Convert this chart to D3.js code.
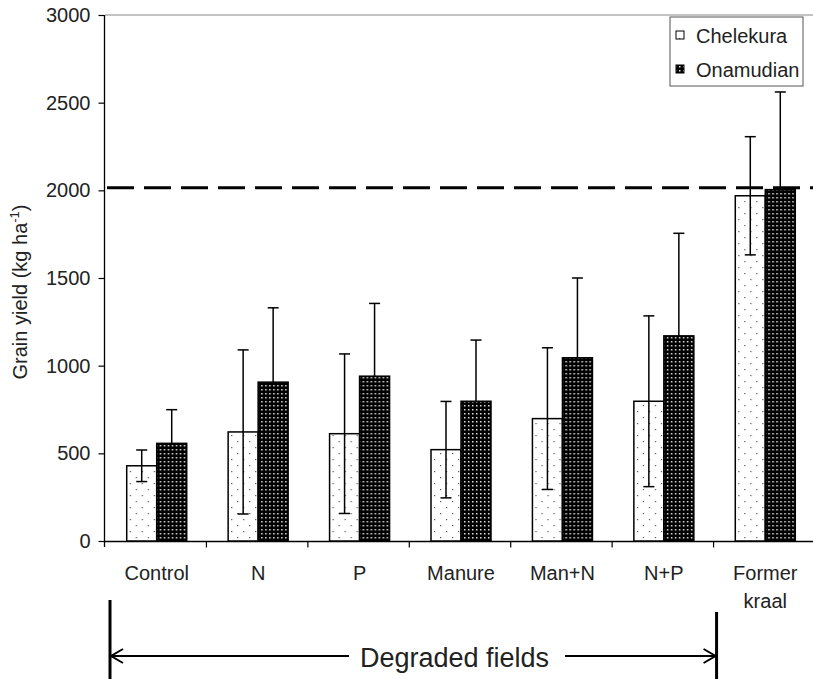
<!DOCTYPE html>
<html>
<head>
<meta charset="utf-8">
<script src="https://cdn.jsdelivr.net/npm/d3@7"></script>
<style>
  html, body { margin: 0; padding: 0; background: #fff; }
  svg { display: block; font-family: "Liberation Sans", Arial, sans-serif; }
</style>
</head>
<body>
<svg id="chart" width="813" height="679"></svg>
<script>
// Grain yield by treatment at two sites (mean ± error)
const categories = ["Control", "N", "P", "Manure", "Man+N", "N+P", "Former kraal"];
const seriesNames = ["Chelekura", "Onamudian"];
const chelekura = [429, 622, 612, 521, 698, 797, 1969];
const chelekuraErr = [90, 468, 455, 275, 404, 487, 337];
const onamudian = [557, 906, 940, 797, 1045, 1170, 2004];
const onamudianErr = [192, 424, 415, 349, 455, 585, 557];
const yTicks = [0, 500, 1000, 1500, 2000, 2500, 3000];
const referenceYield = 2015;

const svg = d3.select("#chart");
const plotLeft = 105, plotRight = 815, plotTop = 15, plotBottom = 541;

const x = d3.scaleBand().domain(categories).range([plotLeft, plotRight]).paddingInner(0).paddingOuter(0);
const x1 = d3.scaleBand().domain(seriesNames).range([0, 60]);
const y = d3.scaleLinear().domain([0, 3000]).range([plotBottom, plotTop]);

// fill patterns
const defs = svg.append("defs");
const pLight = defs.append("pattern").attr("id", "dotsLight")
  .attr("patternUnits", "userSpaceOnUse").attr("width", 12).attr("height", 12);
pLight.append("rect").attr("width", 12).attr("height", 12).attr("fill", "#fff");
pLight.append("rect").attr("x", 3).attr("y", 3).attr("width", 1.2).attr("height", 1.2).attr("fill", "#555");
pLight.append("rect").attr("x", 9).attr("y", 9).attr("width", 1.2).attr("height", 1.2).attr("fill", "#555");

const pDark = defs.append("pattern").attr("id", "dotsDark")
  .attr("patternUnits", "userSpaceOnUse").attr("width", 4).attr("height", 4);
pDark.append("rect").attr("width", 4).attr("height", 4).attr("fill", "#000");
pDark.append("rect").attr("x", 1).attr("y", 1).attr("width", 1.5).attr("height", 1.5).attr("fill", "#e0e0e0");

const fills = { Chelekura: "url(#dotsLight)", Onamudian: "url(#dotsDark)" };

// top frame line
svg.append("line").attr("x1", plotLeft).attr("x2", 813).attr("y1", plotTop).attr("y2", plotTop)
  .attr("stroke", "#888").attr("stroke-width", 1);

// y axis
const yAxis = d3.axisLeft(y).tickValues(yTicks).tickFormat(d3.format("d")).tickSize(6).tickPadding(8);
const gy = svg.append("g").attr("transform", `translate(${plotLeft - 0.5},0)`).call(yAxis);
gy.select(".domain").attr("stroke", "#000").attr("stroke-width", 1.3).attr("d", `M0,${plotTop}V${plotBottom + 6}`);
gy.selectAll(".tick line").attr("stroke", "#000").attr("stroke-width", 1.2);
gy.selectAll(".tick text").attr("font-size", 20).attr("fill", "#222")
  .attr("font-family", "'Liberation Sans', Arial, sans-serif");

// x axis with ticks at category boundaries
const gx = svg.append("g").attr("transform", `translate(0,${plotBottom + 0.5})`);
gx.append("line").attr("x1", plotLeft).attr("x2", 813).attr("stroke", "#000").attr("stroke-width", 1.3);
gx.selectAll("line.tk").data(categories.slice(1)).join("line").attr("class", "tk")
  .attr("x1", d => x(d)).attr("x2", d => x(d)).attr("y1", 0).attr("y2", 6)
  .attr("stroke", "#000").attr("stroke-width", 1.2);

// category labels
const lab = svg.append("g").attr("font-size", 20).attr("fill", "#222").attr("text-anchor", "middle");
categories.forEach(c => {
  const words = c === "Former kraal" ? ["Former", "kraal"] : [c];
  words.forEach((w, i) => {
    lab.append("text").attr("x", x(c) + x.bandwidth() / 2 + 1).attr("y", 580 + i * 28).text(w);
  });
});

// y title
svg.append("text").attr("transform", "translate(27,292) rotate(-90)")
  .attr("text-anchor", "middle").attr("font-size", 20).attr("fill", "#222")
  .call(t => {
    t.append("tspan").text("Grain yield (kg ha");
    t.append("tspan").attr("font-size", 13).attr("dy", -8).text("-1");
    t.append("tspan").attr("dy", 8).text(")");
  });

// reference line
svg.append("line").attr("x1", plotLeft + 2).attr("x2", 813)
  .attr("y1", y(referenceYield)).attr("y2", y(referenceYield))
  .attr("stroke", "#000").attr("stroke-width", 3).attr("stroke-dasharray", "27,10");

// bars
const rows = categories.map((c, i) => ({
  cat: c,
  vals: [
    { s: "Chelekura", v: chelekura[i], e: chelekuraErr[i] },
    { s: "Onamudian", v: onamudian[i], e: onamudianErr[i] }
  ]
}));
const groups = svg.append("g").selectAll("g").data(rows).join("g")
  .attr("transform", d => `translate(${x(d.cat) + (x.bandwidth() - 60) / 2 + 1},0)`);

groups.selectAll("rect").data(d => d.vals).join("rect")
  .attr("x", d => x1(d.s)).attr("width", x1.bandwidth())
  .attr("y", d => y(d.v)).attr("height", d => y(0) - y(d.v))
  .attr("fill", d => fills[d.s]).attr("stroke", "#000").attr("stroke-width", 1.5);

// error bars (lower whisker of the dark bar is hidden within its fill)
groups.selectAll("g.err").data(d => d.vals).join("g").attr("class", "err")
  .each(function (d) {
    const g = d3.select(this);
    const cx = x1(d.s) + x1.bandwidth() / 2;
    const lo = d.s === "Onamudian" ? d.v : d.v - d.e;
    const hi = d.v + d.e;
    g.append("line").attr("x1", cx).attr("x2", cx).attr("y1", y(hi)).attr("y2", y(lo))
      .attr("stroke", "#000").attr("stroke-width", 1.5);
    g.append("line").attr("x1", cx - 5.5).attr("x2", cx + 5.5).attr("y1", y(hi)).attr("y2", y(hi))
      .attr("stroke", "#000").attr("stroke-width", 1.5);
    if (d.s !== "Onamudian") {
      g.append("line").attr("x1", cx - 5.5).attr("x2", cx + 5.5).attr("y1", y(lo)).attr("y2", y(lo))
        .attr("stroke", "#000").attr("stroke-width", 1.5);
    }
  });

// legend
const lg = svg.append("g").attr("transform", "translate(670,17)");
lg.append("rect").attr("width", 133).attr("height", 69).attr("fill", "#fff")
  .attr("stroke", "#555").attr("stroke-width", 1);
seriesNames.forEach((s, i) => {
  lg.append("rect").attr("x", 6).attr("y", 14 + i * 34).attr("width", 8).attr("height", 8)
    .attr("fill", fills[s]).attr("stroke", "#000").attr("stroke-width", 1);
  lg.append("text").attr("x", 26).attr("y", 26 + i * 34).attr("font-size", 20).attr("fill", "#222").text(s);
});

// "Degraded fields" bracket beneath the first six treatments
const bx0 = x(categories[0]) + 5;
const bx1 = x(categories[5]) + x.bandwidth() + 3;
const ay = 656;
const br = svg.append("g").attr("stroke", "#000");
br.append("line").attr("x1", bx0).attr("x2", bx0).attr("y1", 600).attr("y2", 679).attr("stroke-width", 3);
br.append("line").attr("x1", bx1).attr("x2", bx1).attr("y1", 612).attr("y2", 679).attr("stroke-width", 3);
br.append("line").attr("x1", bx0).attr("x2", 349).attr("y1", ay).attr("y2", ay).attr("stroke-width", 2);
br.append("line").attr("x1", 565).attr("x2", bx1).attr("y1", ay).attr("y2", ay).attr("stroke-width", 2);
br.append("path").attr("fill", "none").attr("stroke-width", 2)
  .attr("d", `M${bx0 + 13},${ay - 7}L${bx0 + 1},${ay}L${bx0 + 13},${ay + 7}`);
br.append("path").attr("fill", "none").attr("stroke-width", 2)
  .attr("d", `M${bx1 - 13},${ay - 7}L${bx1 - 1},${ay}L${bx1 - 13},${ay + 7}`);
svg.append("text").attr("x", 360).attr("y", 667).attr("font-size", 27).attr("fill", "#222")
  .text("Degraded fields");
</script>
</body>
</html>
